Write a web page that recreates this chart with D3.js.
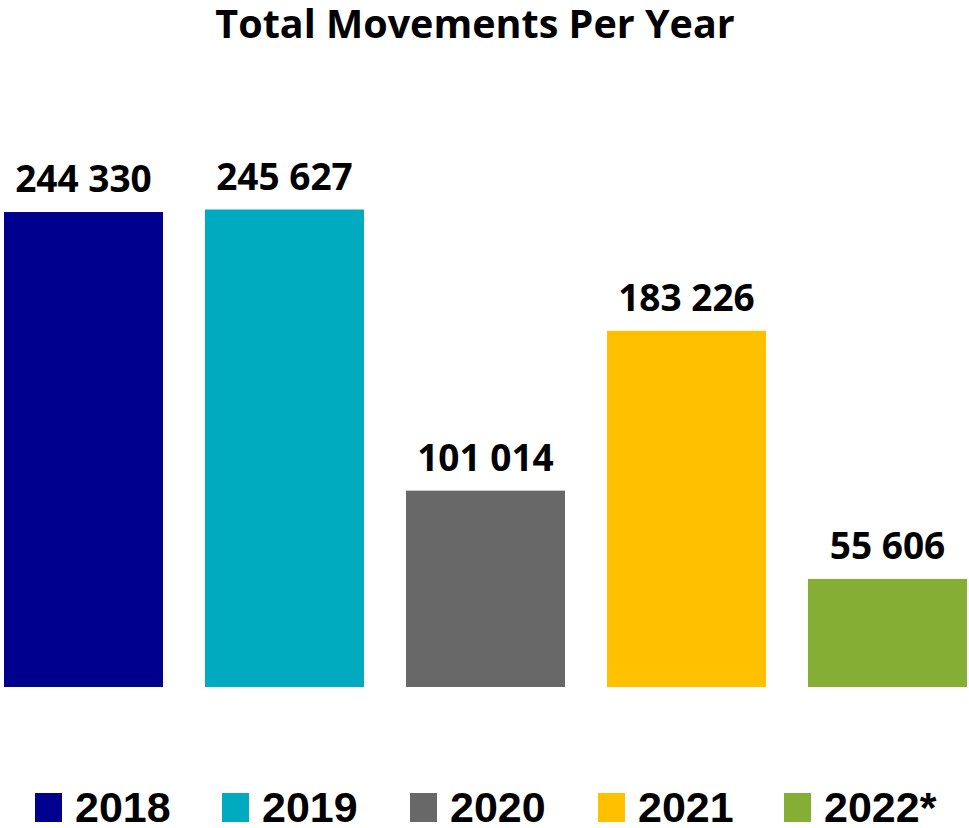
<!DOCTYPE html>
<html>
<head>
<meta charset="utf-8">
<script src="https://cdn.jsdelivr.net/npm/d3@7"></script>
<style>
  body { margin: 0; background: #fff; }
</style>
</head>
<body>
<div id="chart"></div>
<script>
const years = ['2018', '2019', '2020', '2021', '2022*']
const movements = [244330, 245627, 101014, 183226, 55606]
const colors = ['#00008e', '#00abbf', '#686868', '#ffc000', '#84af34']

const width = 969
const height = 828

const svg = d3.select('#chart').append('svg')
  .attr('width', width)
  .attr('height', height)

const x = d3.scaleBand()
  .domain(years)
  .range([4, 967])
  .paddingInner(42 / 201)
  .paddingOuter(0)

const y = d3.scaleLinear()
  .domain([0, 250000])
  .range([687, 201])

const fmt = v => d3.format(',')(v).replace(/,/g, ' ')

svg.append('text')
  .attr('x', 475)
  .attr('y', 38)
  .attr('text-anchor', 'middle')
  .attr('font-family', 'Open Sans')
  .attr('font-weight', 'bold')
  .attr('font-size', 39.5)
  .text('Total Movements Per Year')

const bars = svg.append('g')
  .selectAll('g')
  .data(years.map((d, i) => ({ year: d, value: movements[i], color: colors[i] })))
  .join('g')

bars.append('rect')
  .attr('x', d => x(d.year))
  .attr('y', d => y(d.value))
  .attr('width', x.bandwidth())
  .attr('height', d => y(0) - y(d.value))
  .attr('fill', d => d.color)

bars.append('text')
  .attr('x', d => x(d.year) + x.bandwidth() / 2)
  .attr('y', d => y(d.value) - 20)
  .attr('text-anchor', 'middle')
  .attr('font-family', 'Open Sans')
  .attr('font-weight', 'bold')
  .attr('font-size', 37)
  .text(d => fmt(d.value))

// legend
const legendX = [35, 222, 410, 598, 784]
const legend = svg.append('g')
  .selectAll('g')
  .data(years)
  .join('g')
  .attr('transform', (d, i) => `translate(${legendX[i]},793)`)

legend.append('rect')
  .attr('width', 27)
  .attr('height', 29)
  .attr('fill', (d, i) => colors[i])

legend.append('text')
  .attr('x', 40)
  .attr('y', 29)
  .attr('font-family', 'Liberation Sans')
  .attr('font-weight', 'bold')
  .attr('font-size', 43)
  .text(d => d)
</script>
</body>
</html>
